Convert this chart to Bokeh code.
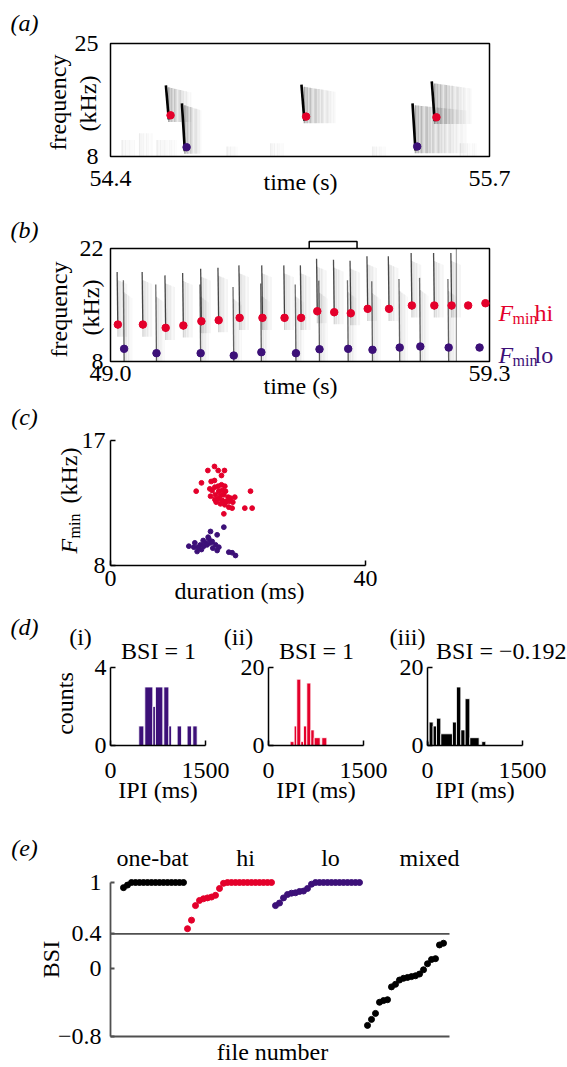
import math
from bokeh.plotting import figure
from bokeh.models import Label, FixedTicker, Range1d, LinearAxis, CustomJSTickFormatter, PrintfTickFormatter
from bokeh.layouts import column
from bokeh.embed import file_html
from bokeh.resources import INLINE

SERIF = "Liberation Serif"
FS = "24px"
RED = "#e4002b"
PURPLE = "#3c1078"
GREY = "#505050"
W = 567

# ---------------- data ----------------
# (a) spectrogram excerpt
a_time = [54.4, 55.7]
a_freq = [8, 25]
a_call_t = [54.606, 54.661, 55.071, 55.452, 55.518]
a_call_f = [14.2, 9.4, 14.0, 9.5, 13.9]
a_call_top = [18.7, 16.0, 18.8, 16.0, 19.3]
a_call_kind = ["hi", "lo", "hi", "lo", "hi"]
a_call_smear = [0.08, 0.06, 0.11, 0.18, 0.13]
a_noise_t0 = [54.44, 54.50, 54.56, 54.80, 54.95, 55.30, 55.60]
a_noise_t1 = [54.49, 54.55, 54.63, 54.84, 55.00, 55.35, 55.66]
a_noise_top = [10.5, 11.5, 10.5, 9.5, 10.0, 9.5, 10.0]

# (b) longer sequence
b_time = [49.0, 59.3]
b_freq = [8, 22]
b_spec_end = 58.4
b_hi_t = [49.20, 49.88, 50.50, 50.98, 51.47, 51.94, 52.51, 53.13, 53.73, 54.18,
          54.62, 55.08, 55.53, 55.99, 56.57, 57.19, 57.80, 58.27, 58.72, 59.19]
b_hi_f = [12.58, 12.58, 12.17, 12.46, 12.99, 13.12, 13.41, 13.41, 13.41, 13.41,
          14.23, 14.11, 13.98, 14.53, 14.53, 14.94, 14.94, 14.94, 14.94, 15.22]
b_lo_t = [49.37, 50.25, 51.45, 52.35, 53.10, 54.04, 54.68, 55.46, 56.12, 56.86,
          57.42, 58.19, 59.03]
b_lo_f = [9.57, 9.03, 9.03, 8.74, 9.15, 9.03, 9.52, 9.57, 9.45, 9.73, 9.86, 9.73, 9.73]

# (c) duration vs Fmin
c_dur = [0, 40]
c_fmin = [8, 17]
c_hi_dur = [16.31, 15.27, 16.89, 17.88, 17.41, 16.31, 15.79, 14.27, 17.41, 15.58,
            16.37, 16.89, 17.93, 13.44, 15.95, 16.99, 17.52, 18.04, 21.96, 15.69,
            16.47, 17.25, 17.78, 18.46, 19.50, 16.37, 16.89, 17.52, 18.04, 18.56,
            19.19, 17.93, 18.56, 19.08, 21.07, 22.22, 17.78, 16.58, 17.25, 18.82]
c_hi_f = [15.13, 14.84, 14.84, 14.84, 14.48, 14.12, 14.05, 13.95, 13.81, 13.52,
          13.64, 13.71, 13.71, 13.35, 13.40, 13.35, 13.40, 13.35, 13.35, 12.99,
          13.09, 13.04, 13.09, 12.92, 12.92, 12.75, 12.80, 12.68, 12.61, 12.61,
          12.56, 12.37, 12.20, 12.13, 12.13, 12.13, 11.72, 12.56, 12.44, 12.85]
c_lo_dur = [17.78, 15.69, 16.73, 15.32, 14.54, 15.43, 14.90, 15.95, 13.23, 14.12,
            12.29, 13.75, 14.64, 15.16, 16.47, 16.99, 16.05, 14.27, 13.59, 16.73,
            18.56, 19.08, 19.61, 13.07, 15.69]
c_lo_f = [10.76, 10.45, 10.21, 10.04, 9.80, 9.92, 9.63, 9.73, 9.63, 9.49,
          9.39, 9.32, 9.39, 9.49, 9.49, 9.32, 9.25, 9.15, 9.01, 9.08,
          8.96, 8.92, 8.72, 9.32, 9.63]

# (d) IPI histograms
ipi_range = [0, 1500]
i_left = [447, 542, 668, 710, 842, 921, 1053, 1210, 1300]
i_right = [526, 668, 710, 826, 921, 963, 1121, 1279, 1368]
i_count = [1, 3, 2, 3, 3, 1, 1, 1, 1]
i_max = 4
ii_left = [342, 405, 447, 510, 553, 605, 668, 721, 842]
ii_right = [405, 447, 510, 553, 605, 668, 721, 816, 921]
ii_count = [1, 5, 17, 1, 5, 16, 4, 2, 2]
ii_max = 20
iii_left = [0, 26, 89, 142, 210, 394, 457, 526, 594, 668, 857]
iii_right = [26, 89, 142, 210, 394, 457, 526, 594, 668, 815, 920]
iii_count = [1, 6, 5, 7, 3, 6, 15, 4, 12, 2, 1]
iii_max = 20
bsi_titles = ["BSI = 1", "BSI = 1", "BSI = \u22120.192"]

# (e) BSI per file
e_onebat = [0.94, 0.97] + [1.0] * 14
e_hi = [0.46, 0.56, 0.73, 0.79, 0.81, 0.82, 0.83, 0.85, 0.93, 0.99] + [1.0] * 12
e_lo = [0.73, 0.76, 0.82, 0.86, 0.875, 0.88, 0.895, 0.90, 0.93, 0.98] + [1.0] * 12
e_mixed = [-0.67, -0.60, -0.53, -0.40, -0.38, -0.37, -0.22, -0.19, -0.14, -0.12,
           -0.11, -0.10, -0.09, -0.07, -0.02, 0.05, 0.10, 0.11, 0.27, 0.29]
e_group_start = [1, 17, 39, 62]
e_file_span = [-2.25, 82.5]
e_threshold = 0.4
e_yticks = [-0.8, 0, 0.4, 1]


# ---------------- helpers ----------------
def span_range(va, pa, vb, pb, lo_px, hi_px):
    s = (pb - pa) / (vb - va)
    return (va + (lo_px - pa) / s, va + (hi_px - pa) / s)


class Panel:
    def __init__(self, top, bottom, xmap, ymap):
        self.top, self.bottom = top, bottom
        xa, Xa, xb, Xb = xmap
        ya, Ya, yb, Yb = ymap
        self.xr = span_range(xa, Xa, xb, Xb, 0, W)
        yr_hi, yr_lo = span_range(ya, Ya, yb, Yb, top, bottom)
        self.yr = (yr_lo, yr_hi)
        p = figure(width=W, height=bottom - top,
                   x_range=Range1d(*self.xr), y_range=Range1d(*self.yr),
                   x_axis_type=None, y_axis_type=None,
                   output_backend="svg", toolbar_location=None,
                   min_border_left=0, min_border_right=0,
                   min_border_top=0, min_border_bottom=0)
        p.grid.visible = False
        p.outline_line_color = None
        p.background_fill_color = "white"
        p.border_fill_color = "white"
        self.p = p

    def X(self, px):
        return self.xr[0] + px / W * (self.xr[1] - self.xr[0])

    def Y(self, py):
        return self.yr[0] + (self.bottom - py) / (self.bottom - self.top) * (self.yr[1] - self.yr[0])

    def add_ranges(self, name, xmap, ymap):
        xa, Xa, xb, Xb = xmap
        ya, Ya, yb, Yb = ymap
        xr = span_range(xa, Xa, xb, Xb, 0, W)
        yr_hi, yr_lo = span_range(ya, Ya, yb, Yb, self.top, self.bottom)
        self.p.extra_x_ranges[name] = Range1d(*xr)
        self.p.extra_y_ranges[name] = Range1d(yr_lo, yr_hi)

    def axis(self, side, loc, ticks, bounds, name="default", standoff=5, tick_in=5,
             line_color="black", line_width=1.5, formatter=None, show_line=True):
        ax = LinearAxis(fixed_location=loc, ticker=FixedTicker(ticks=ticks), bounds=tuple(bounds),
                        x_range_name=name, y_range_name=name)
        ax.major_label_text_font = SERIF
        ax.major_label_text_font_size = FS
        ax.major_label_text_color = "black"
        ax.major_label_standoff = standoff
        ax.minor_tick_line_color = None
        ax.major_tick_in = tick_in
        ax.major_tick_out = 0
        if show_line:
            ax.axis_line_color = line_color
            ax.axis_line_width = line_width
            ax.major_tick_line_color = line_color
            ax.major_tick_line_width = line_width
        else:
            ax.axis_line_color = None
            ax.major_tick_line_color = None
        if formatter is not None:
            ax.formatter = formatter
        if not ticks:
            ax.major_label_text_font_size = "0px"
        self.p.add_layout(ax, side)
        return ax

    def text(self, px, py, s, size=FS, align="center", baseline="middle",
             angle=0, style="normal", color="black"):
        self.p.add_layout(Label(x=self.X(px), y=self.Y(py), text=s,
                                text_font=SERIF, text_font_size=size,
                                text_align=align, text_baseline=baseline,
                                angle=angle, text_font_style=style, text_color=color))


STREAK = [1.0, 0.55, 0.8, 0.4, 0.9, 0.6, 0.35, 0.75]


def smear_strips(ts, bottoms, tops, widths, dt, peak, drop):
    """vertical streaks trailing each call (spectrogram echo texture)"""
    x, y0, y1, al = [], [], [], []
    for t, b, tp, w in zip(ts, bottoms, tops, widths):
        n = max(1, int(round(w / dt)))
        for k in range(n):
            fr = k / n
            x.append(t + k * dt)
            y0.append(b)
            y1.append(tp - drop * fr)
            al.append((peak * (1 - fr) ** 1.2 + 0.03) * STREAK[k % len(STREAK)])
    return x, y0, y1, al


VERT = math.pi / 2

# ---------------- (a) ----------------
A = Panel(0, 205, (a_time[0], 110, a_time[1], 489), (a_freq[0], 156, a_freq[1], 43))
pa = A.p
nx, ny0, ny1, nal = smear_strips(a_noise_t0, [a_freq[0]] * len(a_noise_t0), a_noise_top,
                                 [t1 - t0 for t0, t1 in zip(a_noise_t0, a_noise_t1)], 0.006, 0.05, 0.0)
pa.segment(x0=nx, y0=ny0, x1=nx, y1=ny1, line_color="black", line_alpha=nal, line_width=1.4)
sx, sy0, sy1, sal = smear_strips([t - 0.006 for t in a_call_t], [f - 1.0 for f in a_call_f],
                                 [t - 0.3 for t in a_call_top], a_call_smear, 0.005, 0.32, 0.8)
pa.segment(x0=sx, y0=sy0, x1=sx, y1=sy1, line_color="black", line_alpha=sal, line_width=1.5)
for t, f, top in zip(a_call_t, a_call_f, a_call_top):
    pa.line([t - 0.016, t - 0.006], [top, f - 0.6], line_color="black", line_width=2.6)
a_hi_t = [t for t, k in zip(a_call_t, a_call_kind) if k == "hi"]
a_hi_f = [f for f, k in zip(a_call_f, a_call_kind) if k == "hi"]
a_lo_t = [t for t, k in zip(a_call_t, a_call_kind) if k == "lo"]
a_lo_f = [f for f, k in zip(a_call_f, a_call_kind) if k == "lo"]
pa.scatter(a_hi_t, a_hi_f, size=7.5, color=RED)
pa.scatter(a_lo_t, a_lo_f, size=7.5, color=PURPLE)
pa.quad(left=[a_time[0]], right=[a_time[1]], bottom=[a_freq[0]], top=[a_freq[1]],
        fill_color=None, line_color="black", line_width=1.5)
A.axis("below", a_freq[0], a_time, a_time, standoff=14, show_line=False,
       formatter=PrintfTickFormatter(format="%.1f"))
A.axis("left", a_time[0], a_freq, a_freq, standoff=12, show_line=False)
A.text(24, 22, "(a)", style="italic")
A.text(300, 181, "time (s)")
A.text(57, 102, "frequency", angle=VERT)
A.text(87, 103, "(kHz)", angle=VERT)

# ---------------- (b) ----------------
B = Panel(205, 400, (b_time[0], 110, b_time[1], 489), (b_freq[0], 361, b_freq[1], 248))
pb = B.p
bpy = (361 - 248) / (b_freq[1] - b_freq[0])
b_hi_in = [(t, f) for t, f in zip(b_hi_t, b_hi_f) if t < b_spec_end]
b_lo_in = [(t, f) for t, f in zip(b_lo_t, b_lo_f) if t < b_spec_end]
hx, hy0, hy1, hal = smear_strips([t for t, f in b_hi_in], [f - 1.5 for t, f in b_hi_in],
                                 [f + 5.5 for t, f in b_hi_in], [0.28] * len(b_hi_in), 0.03, 0.16, 0.5)
lx, ly0, ly1, lal = smear_strips([t for t, f in b_lo_in], [b_freq[0]] * len(b_lo_in),
                                 [f + 7.0 for t, f in b_lo_in], [0.25] * len(b_lo_in), 0.03, 0.14, 0.8)
pb.segment(x0=hx, y0=hy0, x1=hx, y1=hy1, line_color="black", line_alpha=hal, line_width=1.1)
pb.segment(x0=lx, y0=ly0, x1=lx, y1=ly1, line_color="black", line_alpha=lal, line_width=1.1)
pb.segment(x0=[t - 0.02 for t, f in b_hi_in], y0=[f + 6.5 for t, f in b_hi_in],
           x1=[t for t, f in b_hi_in], y1=[f - 0.5 for t, f in b_hi_in],
           line_color="#111111", line_width=1.3, line_alpha=0.75)
pb.segment(x0=[t - 0.02 for t, f in b_lo_in], y0=[f + 8.5 for t, f in b_lo_in],
           x1=[t for t, f in b_lo_in], y1=[b_freq[0]] * len(b_lo_in),
           line_color="#111111", line_width=1.3, line_alpha=0.6)
pb.line([b_spec_end, b_spec_end], [b_freq[0], b_freq[1]], line_color="#555555", line_width=1.2, line_alpha=0.6)
pb.quad(left=[b_time[0]], right=[b_time[1]], bottom=[b_freq[0]], top=[b_freq[1]],
        fill_color=None, line_color="black", line_width=1.5)
br_h = b_freq[1] + 7 / bpy
pb.line([a_time[0], a_time[0], a_time[1], a_time[1]], [b_freq[1], br_h, br_h, b_freq[1]],
        line_color="black", line_width=1.5)
pb.scatter(b_hi_t, b_hi_f, size=7.5, color=RED)
pb.scatter(b_lo_t, b_lo_f, size=7.5, color=PURPLE)
B.axis("below", b_freq[0], b_time, b_time, standoff=4, show_line=False,
       formatter=PrintfTickFormatter(format="%.1f"))
B.axis("left", b_time[0], b_freq, b_freq, standoff=7, show_line=False)
B.text(24, 229, "(b)", style="italic")
B.text(300, 385, "time (s)")
B.text(58, 309, "frequency", angle=VERT)
B.text(90, 307, "(kHz)", angle=VERT)
for lbl, yb, col in (("hi", 312, RED), ("lo", 354, PURPLE)):
    B.text(498, yb, "F", align="left", baseline="alphabetic", style="italic", color=col)
    B.text(512, yb + 6, "min", size="16px", align="left", baseline="alphabetic", color=col)
    B.text(534, yb, lbl, align="left", baseline="alphabetic", color=col)

# ---------------- (c) ----------------
C = Panel(400, 606, (c_dur[0], 110, c_dur[1], 365), (c_fmin[0], 565, c_fmin[1], 440))
pc = C.p
pc.scatter(c_hi_dur, c_hi_f, size=4.8, color=RED)
pc.scatter(c_lo_dur, c_lo_f, size=4.8, color=PURPLE)
C.axis("below", c_fmin[0], c_dur, c_dur, standoff=5)
C.axis("left", c_dur[0], c_fmin, c_fmin, standoff=5)
C.text(24, 416, "(c)", style="italic")
C.text(239, 590, "duration (ms)")
C.text(68, 553, "F", align="left", baseline="alphabetic", angle=VERT, style="italic")
C.text(74, 538, "min", size="16px", align="left", baseline="alphabetic", angle=VERT)
C.text(68, 503, "(kHz)", align="left", baseline="alphabetic", angle=VERT)

# ---------------- (d) ----------------
D = Panel(606, 815, (ipi_range[0], 110, ipi_range[1], 205), (0, 745, i_max, 667))
D.add_ranges("ii", (ipi_range[0], 268, ipi_range[1], 363), (0, 745, ii_max, 667))
D.add_ranges("iii", (ipi_range[0], 427, ipi_range[1], 522), (0, 745, iii_max, 667))
pd = D.p
for name, left, right, count, ymax, col in (("default", i_left, i_right, i_count, i_max, PURPLE),
                                            ("ii", ii_left, ii_right, ii_count, ii_max, RED),
                                            ("iii", iii_left, iii_right, iii_count, iii_max, "black")):
    pd.quad(left=left, right=right, bottom=[0] * len(left), top=count,
            fill_color=col, line_color="white", line_width=0.8,
            x_range_name=name, y_range_name=name)
    D.axis("below", 0, ipi_range, ipi_range, name=name, standoff=17)
    D.axis("left", ipi_range[0], [0, ymax], [0, ymax], name=name, standoff=4)
D.text(24, 626, "(d)", style="italic")
D.text(80, 636, "(i)")
D.text(158, 650, bsi_titles[0])
D.text(64, 703, "counts", angle=VERT)
D.text(238, 636, "(ii)")
D.text(316, 650, bsi_titles[1])
D.text(407, 636, "(iii)")
D.text(566, 650, bsi_titles[2], align="right")
for cx in (157.5, 315.5, 474.5):
    D.text(cx, 789, "IPI (ms)")

# ---------------- (e) ----------------
E = Panel(815, 1067, (1, 123, 2, 127), (e_yticks[0], 1036, e_yticks[-1], 882))
pe = E.p
pe.line(e_file_span, [e_threshold, e_threshold], line_color=GREY, line_width=1.8)
for vals, start, col in ((e_onebat, e_group_start[0], "black"), (e_hi, e_group_start[1], RED),
                         (e_lo, e_group_start[2], PURPLE), (e_mixed, e_group_start[3], "black")):
    xs = list(range(start, start + len(vals)))
    pe.scatter(xs, vals, size=6, color=col)
E.axis("left", e_file_span[0], e_yticks, (e_yticks[0], e_yticks[-1]), standoff=9, tick_in=4,
       line_color=GREY, line_width=1.8,
       formatter=CustomJSTickFormatter(code="return tick < 0 ? '\\u2212' + Math.abs(tick) : String(tick);"))
E.axis("below", e_yticks[0], [], e_file_span, line_color=GREY, line_width=1.8)
E.text(24, 847, "(e)", style="italic")
E.text(152, 857, "one-bat")
E.text(245, 857, "hi")
E.text(330, 857, "lo")
E.text(429, 857, "mixed")
E.text(50, 959, "BSI", angle=VERT)
E.text(272, 1051, "file number")

layout = column(pa, pb, pc, pd, pe)
open("out.html", "w").write(file_html(layout, INLINE))
